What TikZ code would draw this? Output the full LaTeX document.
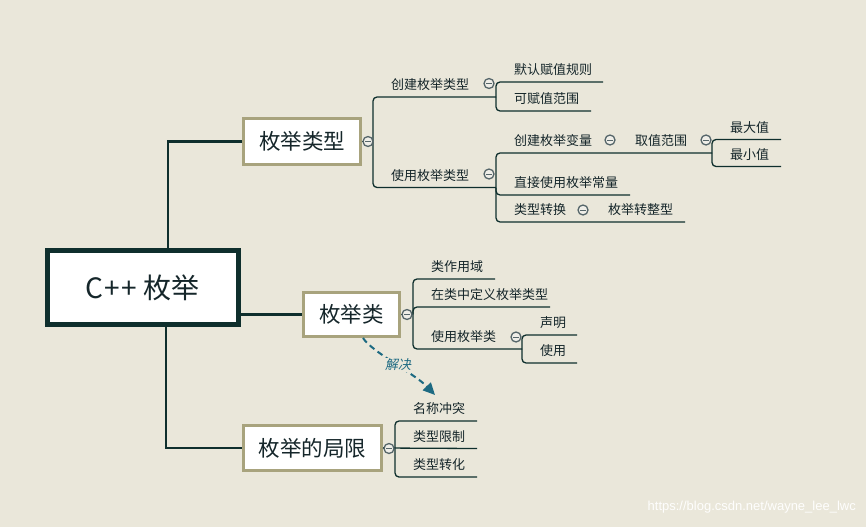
\documentclass[tikz,border=0pt]{standalone}
\usepackage{fontspec}
\setmainfont{Noto Sans CJK SC}
\newfontfamily\cjkit{Noto Sans CJK SC}[FakeSlant=0.2]
\newfontfamily\wmfont{Liberation Sans}
\usetikzlibrary{arrows.meta,calc}
\definecolor{bgc}{HTML}{EAE7DA}
\definecolor{darkc}{HTML}{0F2F2D}
\definecolor{khaki}{HTML}{A8A37D}
\definecolor{tealc}{HTML}{1D6A82}
\definecolor{cgrey}{HTML}{56666A}
\definecolor{cfill}{HTML}{EFEEE8}
\definecolor{txtc}{HTML}{15262A}
\newcommand\topic[5]{%
  \coordinate (#1s) at (#2,#3);
  \coordinate (#1e) at (#4,#3);
  \node[leaf] (#1) at (#2+18,#3-7.5) {#5};
}
\begin{document}
\begin{tikzpicture}[x=1pt,y=-1pt,
  leaf/.style={anchor=base west, inner sep=0, text=txtc, font=\fontsize{13}{15}\selectfont},
  mainbox/.style={draw=khaki, line width=3, fill=white, inner sep=0, text=txtc, font=\fontsize{21.5}{24}\selectfont},
  trunk/.style={draw=darkc, line width=2.6},
  br/.style={draw=darkc, line width=1.3, rounded corners=4},
  circ/.style={circle, draw=cgrey, fill=cfill, line width=1.3, minimum size=10, inner sep=0,
    path picture={\draw[cgrey, line width=1] ([xshift=-2.6]path picture bounding box.center) -- ([xshift=2.6]path picture bounding box.center);}},
  arrowst/.style={draw=tealc, line width=2, dash pattern=on 6 off 4, -{Triangle[length=12,width=11]}}
]
\fill[bgc] (0,0) rectangle (866,527);
\useasboundingbox (0,0) rectangle (866,527);

% main nodes
\node[draw=darkc, line width=5, fill=white, minimum width=191, minimum height=74, inner sep=0, text=txtc,
      font=\fontsize{28}{30}\selectfont] (root) at (142.5,287.5) {C\kern1.5pt+\kern1.5pt+ 枚举};
\node[mainbox, minimum width=117, minimum height=46] (t1) at (302,141.5) {枚举类型};
\node[mainbox, minimum width=96, minimum height=44] (t2) at (351.5,314.5) {枚举类};
\node[mainbox, minimum width=138, minimum height=45] (t3) at (312.5,448) {枚举的局限};

% trunk connectors
\draw[trunk] ([xshift=25.5]root.north) |- (t1.west);
\draw[trunk] (root.east |- t2.west) -- (t2.west);
\draw[trunk] ([xshift=23.5]root.south) |- (t3.west);

% ---------- 枚举类型 ----------
\coordinate (b1) at (373,141.5);
\topic{a1}{373}{97}{496}{创建枚举类型}
\topic{a2}{373}{187.5}{496}{使用枚举类型}
\topic{a11}{496}{82}{603}{默认赋值规则}
\topic{a12}{496}{111}{591}{可赋值范围}
\topic{a21}{496}{153}{617}{创建枚举变量}
\topic{a211}{617}{153}{712}{取值范围}
\topic{a2111}{712}{139.5}{781}{最大值}
\topic{a2112}{712}{166.5}{781}{最小值}
\topic{a22}{496}{195}{630}{直接使用枚举常量}
\topic{a23}{496}{222}{590}{类型转换}
\topic{a231}{590}{222}{685}{枚举转整型}

\draw[br] (t1.east) -- (b1);
\draw[br] (b1) |- (a1e);
\draw[br] (b1) |- (a2e);
\draw[br] (a1e) |- (a11e);
\draw[br] (a1e) |- (a12e);
\draw[br] (a2e) |- (a21e) -- (a211e);
\draw[br] (a2e) |- (a22e);
\draw[br] (a2e) |- (a23e) -- (a231e);
\draw[br] (a211e) |- (a2111e);
\draw[br] (a211e) |- (a2112e);

\node[circ] (c1) at (368,141.5) {};
\node[circ] (ca1) at (489,83.5) {};
\node[circ] (ca2) at (489,174) {};
\node[circ] (ca21) at (610,140) {};
\node[circ] (ca211) at (706,140) {};
\node[circ] (ca23) at (583,210) {};

% ---------- 枚举类 ----------
\coordinate (b2) at (413,314.5);
\topic{m1}{413}{279}{495}{类作用域}
\topic{m2}{413}{307}{550}{在类中定义枚举类型}
\topic{m3}{413}{349}{522}{使用枚举类}
\topic{m31}{522}{335}{577}{声明}
\topic{m32}{522}{363}{577}{使用}

\draw[br] (t2.east) -- (b2);
\draw[br] (b2) |- (m1e);
\draw[br] (b2) |- (m2e);
\draw[br] (b2) |- (m3e);
\draw[br] (m3e) |- (m31e);
\draw[br] (m3e) |- (m32e);

\node[circ] (c2) at (407,314.5) {};
\node[circ] (cm3) at (516,337) {};

% ---------- 枚举的局限 ----------
\coordinate (b3) at (395,448.5);
\topic{l1}{395}{421}{477}{名称冲突}
\topic{l2}{395}{448.5}{477}{类型限制}
\topic{l3}{395}{477}{477}{类型转化}

\draw[br] (t3.east) -- (b3);
\draw[br] (b3) |- (l1e);
\draw[br] (t3.east) -- (l2e);
\draw[br] (b3) |- (l3e);

\node[circ] (c3) at (389,448.5) {};

% ---------- relation ----------
\coordinate (arre) at (435,395);
\draw[arrowst] ([xshift=11.5]t2.south) .. controls (372,352) and (415,374) .. (arre);
\node[fill=bgc, inner sep=1, text=tealc, font=\cjkit\fontsize{13}{15}\selectfont] (lbl) at (398,365) {解决};

% watermark
\node[anchor=base east, inner sep=0, text=white!96!bgc, font=\wmfont\fontsize{13}{15}\selectfont] (wm) at (856,510) {https://blog.csdn.net/wayne\_lee\_lwc};
\end{tikzpicture}
\end{document}
